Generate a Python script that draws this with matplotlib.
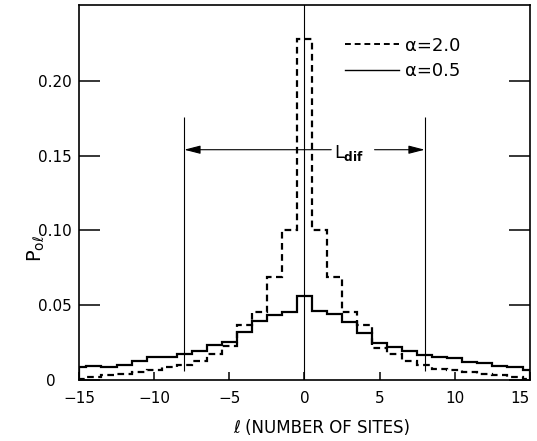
import matplotlib.pyplot as plt
import numpy as np
from matplotlib.lines import Line2D

# site index l and occupation probabilities
sites = np.arange(-15, 16)
p_alpha_20 = [0.0008, 0.0019, 0.0030, 0.0041, 0.0052, 0.0068, 0.0082, 0.0097,
              0.0125, 0.0175, 0.0224, 0.0365, 0.0454, 0.0690, 0.1000, 0.2280,
              0.1000, 0.0690, 0.0456, 0.0365, 0.0215, 0.0175, 0.0127, 0.0097,
              0.0075, 0.0064, 0.0052, 0.0041, 0.0030, 0.0015, 0.0005]
p_alpha_05 = [0.0082, 0.0090, 0.0082, 0.0100, 0.0124, 0.0153, 0.0150, 0.0172,
              0.0195, 0.0230, 0.0250, 0.0320, 0.0391, 0.0436, 0.0455, 0.0560,
              0.0460, 0.0440, 0.0387, 0.0310, 0.0249, 0.0220, 0.0190, 0.0164,
              0.0153, 0.0142, 0.0119, 0.0115, 0.0090, 0.0082, 0.0068]
series_labels = ['α=2.0', 'α=0.5']
x_ticks = [-15, -10, -5, 0, 5, 10, 15]
y_ticks = [0, 0.05, 0.10, 0.15, 0.20]
y_tick_labels = ['', '0.05', '0.10', '0.15', '0.20']
l_dif = 8.0
l_dif_level = 0.154

# bins of width 1 centred on each site, clipped to the axis range
edges = np.concatenate(([sites[0]], sites[:-1] + 0.5, [sites[-1]]))
dash = (0, (3, 2))

fig = plt.figure(figsize=(5.37, 4.41), dpi=100)
ax = fig.add_axes([0.147, 0.139, 0.840, 0.850])

ax.stairs(p_alpha_20, edges, baseline=0, color='black', lw=1.6, linestyle=dash)
ax.stairs(p_alpha_05, edges, baseline=0, color='black', lw=1.6)

ax.axvline(0, color='black', lw=0.8)
ax.vlines([-l_dif, l_dif], 0.006, 0.1757, color='black', lw=0.8)

arrow = dict(arrowstyle='-|>,head_length=0.7,head_width=0.18', color='black',
             lw=0.8, mutation_scale=14, shrinkA=0, shrinkB=0)
ax.annotate('', xy=(-l_dif, l_dif_level), xytext=(1.78, l_dif_level), arrowprops=arrow)
ax.annotate('', xy=(l_dif, l_dif_level), xytext=(4.66, l_dif_level), arrowprops=arrow)
ax.text(1.95, 0.1486, r'$\mathregular{L}_{\mathbf{dif}}$', fontsize=12.5,
        ha='left', va='baseline')

handles = [Line2D([], [], color='black', lw=1.4, linestyle=dash),
           Line2D([], [], color='black', lw=1.0)]
ax.legend(handles, series_labels, loc='upper left', bbox_to_anchor=(0.59, 0.915),
          frameon=False, fontsize=13, handlelength=3.0, handletextpad=0.3,
          labelspacing=0.4, borderpad=0, borderaxespad=0)

ax.set_xlim(-15, 15)
ax.set_ylim(0, 0.251)
ax.set_xticks(x_ticks)
ax.set_yticks(y_ticks)
ax.set_yticklabels(y_tick_labels)
ax.tick_params(axis='y', direction='in', length=15, width=1.1, right=True,
               labelsize=11, pad=5)
ax.tick_params(axis='x', direction='in', length=6, width=1.1, labelsize=11, pad=8)
ax.get_xticklabels()[-1].set_horizontalalignment('right')
for s in ax.spines.values():
    s.set_linewidth(1.2)

ax.text(-0.062, -0.001, '0', transform=ax.get_yaxis_transform(), fontsize=11,
        ha='center', va='center')

ax.set_xlabel('ℓ (NUMBER OF SITES)', fontsize=12)
ax.xaxis.set_label_coords(0.539, -0.105)
ax.set_ylabel(r'$\mathregular{P_{o\ell}}$', fontsize=14)
ax.yaxis.set_label_coords(-0.07, 0.35)

fig.savefig('out.png', dpi=100)
